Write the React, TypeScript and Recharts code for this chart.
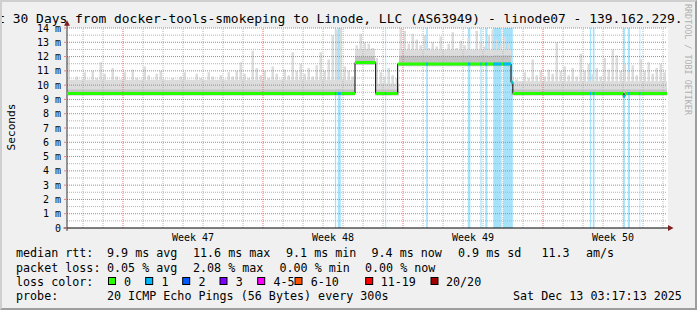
import React from 'react';
import { ComposedChart, Area, Line, XAxis, YAxis, ReferenceLine, ReferenceDot } from 'recharts';

// x unit: hours since the start of the 30-day window (0..720)
const SAMPLE_H = 4.8;

// max ping per 4.8h sample (top of the smoke spikes), ms
const smokeMax = [
  12.0, 10.3, 10.6, 10.2, 10.9, 10.4, 11.0, 10.5, 11.6, 10.8,
  10.3, 11.2, 10.6, 10.4, 10.9, 10.2, 11.1, 10.5, 10.3, 11.3,
  10.7, 10.4, 10.8, 11.0, 10.4, 10.2, 10.5, 10.1, 10.6, 10.9,
  10.4, 10.2, 10.8, 10.5, 10.3, 10.9, 10.6, 10.2, 10.7, 10.4,
  10.9, 10.6, 11.0, 11.6, 10.8, 10.5, 12.4, 11.2, 10.7, 11.0,
  10.5, 11.3, 10.8, 10.4, 11.1, 10.7, 12.3, 11.0, 11.5, 10.8,
  11.2, 10.6, 11.4, 12.3, 11.0, 11.8, 13.5, 13.9, 14.0, 11.3,
  11.0, 10.6, 12.8, 13.6, 13.0, 12.9, 12.6, 11.9, 10.9, 10.6,
  11.2, 10.7, 10.5, 14.0, 13.8, 12.9, 13.6, 13.2, 12.8, 13.5,
  12.6, 13.0, 12.7, 13.4, 12.5, 12.9, 13.7, 12.6, 13.1, 12.8,
  13.3, 12.5, 13.8, 13.0, 12.7, 13.5, 13.9, 13.2, 12.8, 13.4,
  12.9, 10.6, 10.4, 10.2, 10.9, 10.5, 11.8, 10.7, 11.0, 10.6,
  11.1, 10.8, 13.0, 11.0, 11.3, 10.7, 11.2, 10.6, 12.2, 11.0,
  11.5, 10.8, 11.2, 10.6, 11.9, 11.1, 12.5, 12.1, 11.0, 11.5,
  10.9, 11.4, 10.7, 11.8, 11.0, 11.6, 10.8, 11.2, 11.5, 10.9,
];

// median rtt steps (hour where the level starts, ms)
const medianStepHours = [0, 345.6, 370.4, 396.8, 532.8, 535, 667.5, 669.5];
const medianStepValues = [9.42, 11.58, 9.42, 11.48, 10.2, 9.42, 9.2, 9.42];
// darker smoke band height above the median, per step
const smokeDarkOffsets = [0.3, 0.45, 0.3, 0.6, 0.3, 0.3, 0.3, 0.3];
// continuous light smoke height above the median, per step
const smokeBaseOffsets = [0.95, 0.95, 0.7, 1.0, 0.3, 0.85, 1.0, 0.85];

// periods with packet loss (1 of 20), hours
const lossSpans: [number, number][] = [
  [321.5, 323], [325, 328.5], [382, 383], [431, 433], [481, 484], [496, 497.5],
  [502, 504.5], [511.5, 521.5], [523.5, 535], [627.5, 629], [631, 633],
  [667.5, 669.5], [673, 675.5], [687, 688],
];

const weekGridHours = [67.2, 235.2, 403.2, 571.2];
const weekLabelHours = [151.2, 319.2, 487.2, 655.2];
const weekLabels = ['Week 47', 'Week 48', 'Week 49', 'Week 50'];
const dayGridHours = [
  19.2, 43.2, 91.2, 115.2, 139.2, 163.2, 187.2, 211.2, 259.2, 283.2, 307.2, 331.2,
  355.2, 379.2, 427.2, 451.2, 475.2, 499.2, 523.2, 547.2, 595.2, 619.2, 643.2,
  667.2, 691.2, 715.2,
];
const yTicks = [0, 1, 2, 3, 4, 5, 6, 7, 8, 9, 10, 11, 12, 13, 14];
const yMinorGrid = [0.5, 1.5, 2.5, 3.5, 4.5, 5.5, 6.5, 7.5, 8.5, 9.5, 10.5, 11.5, 12.5, 13.5];
const yMajorGrid = [1, 2, 3, 4, 5, 6, 7, 8, 9, 10, 11, 12, 13, 14];

// legend rows: [text, x]
const rttItems: [string, number][] = [
  ['median rtt:', 16], ['9.9 ms avg', 107], ['11.6 ms max', 193], ['9.1 ms min', 286],
  ['9.4 ms now', 371.5], ['0.9 ms sd', 458], ['11.3', 541.5], ['am/s', 586],
];
const lossItems: [string, number][] = [
  ['packet loss:', 16], ['0.05 % avg', 107], ['2.08 % max', 193], ['0.00 % min', 279.5], ['0.00 % now', 365],
];
const probeItems: [string, number][] = [
  ['probe:', 16], ['20 ICMP Echo Pings (56 Bytes) every 300s', 107], ['Sat Dec 13 03:17:13 2025', 513],
];
const lossLegend = [
  { label: '0', color: '#26ff00', x: 108.5, tx: 124 },
  { label: '1', color: '#00b8ff', x: 145.7, tx: 161.4 },
  { label: '2', color: '#0059ff', x: 182.7, tx: 198.4 },
  { label: '3', color: '#7e00ff', x: 220, tx: 235.7 },
  { label: '4-5', color: '#ff00ff', x: 257.7, tx: 273.4 },
  { label: '6-10', color: '#ff5500', x: 295, tx: 310.7 },
  { label: '11-19', color: '#ff0000', x: 365.7, tx: 380.7 },
  { label: '20/20', color: '#a10000', x: 431, tx: 446 },
];

const MONO = "'DejaVu Sans Mono', monospace";
const GREEN = '#26ff00';
const BLUE = '#00b8ff';
const LOSS_BG = '#a6e3fb';
const SMOKE_LIGHT = '#dcdcdc';
const SMOKE_DARK = '#c4c4c4';

const stepIndexAt = (h: number) => {
  let idx = 0;
  for (let i = 0; i < medianStepHours.length; i++) if (medianStepHours[i] <= h) idx = i;
  return idx;
};
const medianAt = (h: number) => medianStepValues[stepIndexAt(h)];

// smoke: continuous band plus one spike per sample (stepped range areas)
const smokeRows: { h: number; dark: number[]; light: number[] }[] = [];
smokeMax.forEach((m, k) => {
  const h = k * SAMPLE_H;
  const idx = stepIndexAt(h + SAMPLE_H / 2);
  const med = medianStepValues[idx];
  const low = med - 0.15;
  const darkTop = med + smokeDarkOffsets[idx];
  const baseTop = med + smokeBaseOffsets[idx];
  const top = Math.max(baseTop, m);
  smokeRows.push({ h, dark: [low, darkTop], light: [darkTop, baseTop] });
  smokeRows.push({ h: h + 0.6, dark: [low, darkTop], light: [darkTop, top] });
  smokeRows.push({ h: h + 3.6, dark: [low, darkTop], light: [darkTop, baseTop] });
});
smokeRows.push({ ...smokeRows[smokeRows.length - 1], h: 720 });

const lossRows: { h: number; loss: number }[] = [{ h: 0, loss: 0 }];
lossSpans.forEach(([a, b]) => {
  lossRows.push({ h: a, loss: 14 });
  lossRows.push({ h: b, loss: 0 });
});
lossRows.push({ h: 720, loss: 0 });

const blackRows = medianStepHours.map((h, i) => ({ h, m: medianStepValues[i] }));
blackRows.push({ h: 720, m: medianStepValues[medianStepValues.length - 1] });

const greenRows: { h: number; g: number | null }[] = [];
medianStepHours.forEach((h, i) => {
  const next = i + 1 < medianStepHours.length ? medianStepHours[i + 1] : 720;
  greenRows.push({ h, g: medianStepValues[i] });
  greenRows.push({ h: next, g: medianStepValues[i] });
  greenRows.push({ h: next, g: null });
});

const blueRows: { h: number; b: number | null }[] = [];
lossSpans.forEach(([a, b]) => {
  const pts = [a, ...medianStepHours.filter((s) => s > a && s < b), b];
  for (let j = 0; j < pts.length - 1; j++) {
    const v = medianAt(pts[j]);
    blueRows.push({ h: pts[j], b: v });
    blueRows.push({ h: pts[j + 1], b: v });
    blueRows.push({ h: pts[j + 1], b: null });
  }
});

const XTick = (p: any) => {
  const i = weekLabelHours.indexOf(p.payload.value);
  return (
    <text x={p.x} y={p.y + 12.7} textAnchor="middle" fontFamily={MONO} fontSize={10} fill="#000">
      {i >= 0 ? weekLabels[i] : ''}
    </text>
  );
};

const YTick = (p: any) => (
  <text x={p.x} y={p.y + 3.6} textAnchor="end" fontFamily={MONO} fontSize={10} fill="#000">
    {p.payload.value === 0 ? '0' : `${p.payload.value} m`}
  </text>
);

const RightArrow = (p: any) => (
  <path d={`M${p.cx - 2.5},${p.cy - 3} L${p.cx + 3},${p.cy} L${p.cx - 2.5},${p.cy + 3} Z`} fill="#7f1f1f" />
);
const UpArrow = (p: any) => (
  <path d={`M${p.cx - 3},${p.cy + 2.5} L${p.cx},${p.cy - 3} L${p.cx + 3},${p.cy + 2.5} Z`} fill="#7f1f1f" />
);

const pre: React.CSSProperties = { whiteSpace: 'pre' };

const Row = ({ items, y }: { items: [string, number][]; y: number }) => (
  <>
    {items.map(([t, x]) => (
      <text key={t + x} x={x} y={y} fontFamily={MONO} fontSize={11.7} fill="#000" style={pre}>
        {t}
      </text>
    ))}
  </>
);

export default function App() {
  return (
    <div style={{ position: 'fixed', left: 0, top: 0, width: 697, height: 310, background: '#f0f0f0', overflow: 'hidden' }}>
      <div style={{ position: 'absolute', left: 67, top: 28, width: 601, height: 200, background: '#ffffff' }} />
      <div style={{ position: 'absolute', left: 0, top: 0 }}>
        <ComposedChart width={697} height={310} data={smokeRows} margin={{ top: 28, right: 30, bottom: 0, left: 0 }}>
          <XAxis
            type="number"
            dataKey="h"
            domain={[0, 720]}
            ticks={weekLabelHours}
            interval={0}
            allowDataOverflow
            height={82}
            axisLine={false}
            tickLine={false}
            tickSize={0}
            tickMargin={0}
            tick={XTick}
          />
          <YAxis
            type="number"
            domain={[0, 14]}
            ticks={yTicks}
            interval={0}
            allowDataOverflow
            width={67}
            axisLine={false}
            tickLine={{ stroke: '#d88' }}
            tickSize={3}
            tickMargin={3}
            tick={YTick}
          />
          <Area data={lossRows} dataKey="loss" type="stepAfter" fill={LOSS_BG} fillOpacity={1} stroke="none" isAnimationActive={false} />
          <Area dataKey="light" type="stepAfter" fill={SMOKE_LIGHT} fillOpacity={1} stroke="none" isAnimationActive={false} />
          <Area dataKey="dark" type="stepAfter" fill={SMOKE_DARK} fillOpacity={1} stroke="none" isAnimationActive={false} />
          {yMinorGrid.map((v) => (
            <ReferenceLine key={'ym' + v} y={v} stroke="#b4b4b4" strokeDasharray="1 1" />
          ))}
          {dayGridHours.map((v) => (
            <ReferenceLine key={'xm' + v} x={v} stroke="#b4b4b4" strokeDasharray="1 1" />
          ))}
          {yMajorGrid.map((v) => (
            <ReferenceLine key={'yM' + v} y={v} stroke="#e07070" strokeDasharray="1 1" />
          ))}
          {weekGridHours.map((v) => (
            <ReferenceLine key={'xM' + v} x={v} stroke="#e07070" strokeDasharray="1 1" />
          ))}
          <ReferenceLine segment={[{ x: -4, y: 0 }, { x: 722, y: 0 }]} stroke="#000" ifOverflow="visible" />
          <ReferenceLine segment={[{ x: 0, y: -0.2 }, { x: 0, y: 14.3 }]} stroke="#333" ifOverflow="visible" />
          <ReferenceDot x={724.2} y={0} r={3} shape={RightArrow} ifOverflow="visible" />
          <ReferenceDot x={0} y={14.34} r={3} shape={UpArrow} ifOverflow="visible" />
          <Line data={blackRows} dataKey="m" type="stepAfter" stroke="#000" strokeWidth={1} dot={false} isAnimationActive={false} />
          <Line data={greenRows} dataKey="g" type="linear" stroke={GREEN} strokeWidth={3} dot={false} connectNulls={false} isAnimationActive={false} />
          <Line data={blueRows} dataKey="b" type="linear" stroke={BLUE} strokeWidth={3} dot={false} connectNulls={false} isAnimationActive={false} />
        </ComposedChart>
      </div>
      <svg width={697} height={310} style={{ position: 'absolute', left: 0, top: 0, pointerEvents: 'none' }}>
        <text x={-26.2} y={23} fontFamily={MONO} fontSize={12.95} fill="#000" style={pre}>
          Last 30 Days from docker-tools-smokeping to Linode, LLC (AS63949) - linode07 - 139.162.229.
        </text>
        <text x={0} y={0} transform="translate(14.5,127) rotate(-90)" textAnchor="middle" fontFamily={MONO} fontSize={11.2} fill="#000">
          Seconds
        </text>
        <text x={0} y={0} transform="translate(685,4) rotate(90)" fontFamily={MONO} fontSize={8.4} fill="#b0b0b0" style={pre}>
          RRDTOOL / TOBI OETIKER
        </text>
        <Row items={rttItems} y={257.3} />
        <Row items={lossItems} y={271.6} />
        <text x={16} y={285.9} fontFamily={MONO} fontSize={11.7} fill="#000" style={pre}>
          loss color:
        </text>
        {lossLegend.map((l) => (
          <g key={l.label}>
            <rect x={l.x} y={277.5} width={7} height={7} fill={l.color} stroke="#000" strokeWidth={1} />
            <text x={l.tx} y={285.9} fontFamily={MONO} fontSize={11.7} fill="#000" style={pre}>
              {l.label}
            </text>
          </g>
        ))}
        <Row items={probeItems} y={300.2} />
      </svg>
      <div
        style={{
          position: 'absolute', left: 0, top: 0, width: 697, height: 310, boxSizing: 'border-box',
          borderStyle: 'solid', borderWidth: 2, borderColor: '#cfcfcf #9e9e9e #9e9e9e #cfcfcf', pointerEvents: 'none',
        }}
      />
    </div>
  );
}
